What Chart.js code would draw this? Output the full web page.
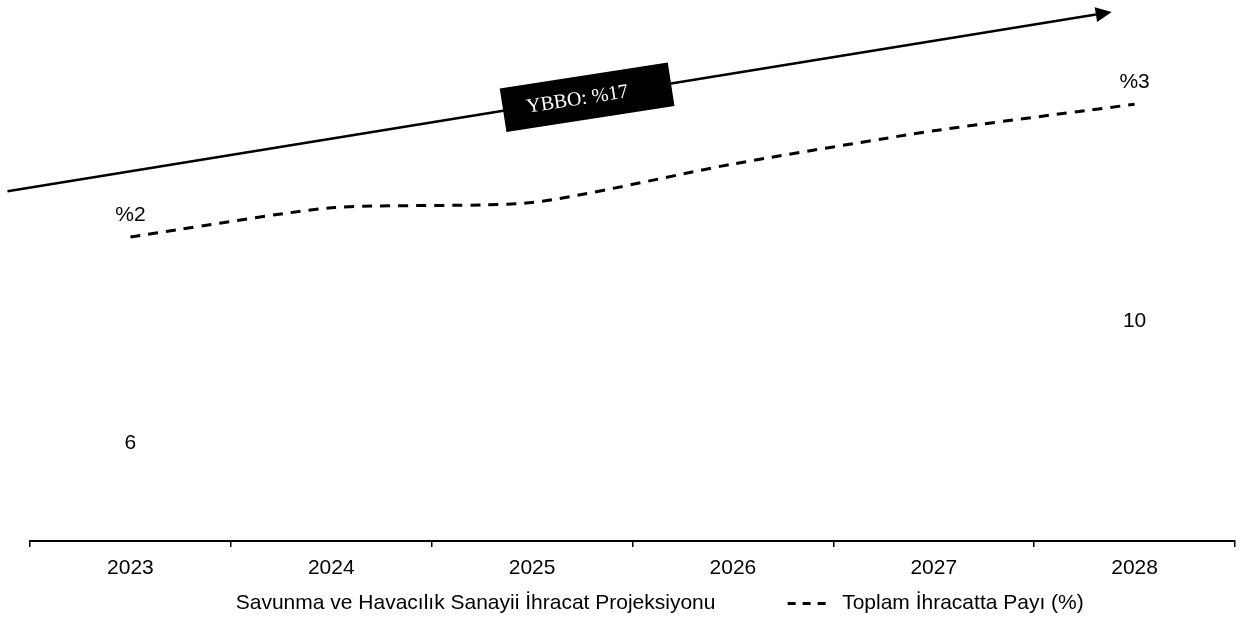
<!DOCTYPE html>
<html>
<head>
<meta charset="utf-8">
<script src="https://cdn.jsdelivr.net/npm/chart.js@4.4.1/dist/chart.umd.min.js"></script>
<style>
html,body{margin:0;padding:0;background:#ffffff;}
#wrap{width:1242px;height:624px;position:relative;}
</style>
</head>
<body>
<div id="wrap"><canvas id="c" width="1242" height="624"></canvas></div>
<script>
// ---- data ----
const years = ['2023', '2024', '2025', '2026', '2027', '2028'];
const exportValues = [6, 7, 7.6, 8.3, 9.1, 10];
const exportLabelShown = [true, false, false, false, false, true];
const shareValues = [2.0, 2.22, 2.26, 2.55, 2.8, 3.0];
const shareLabels = ['%2', '', '', '', '', '%3'];
const cagrLabel = 'YBBO: %17';
const barSeriesName = 'Savunma ve Havacılık Sanayii İhracat Projeksiyonu';
const lineSeriesName = 'Toplam İhracatta Payı (%)';
// trend arrow, in (category index, share axis value)
const arrowStart = [-0.612, 2.344];
const arrowEnd = [4.886, 3.695];
const arrowBoxAtIndex = 2.274;

const FONT = "'Liberation Sans', Arial, sans-serif";
Chart.defaults.font.family = FONT;
Chart.defaults.color = '#000';

const valueLabels = {
  id: 'valueLabels',
  afterDatasetsDraw(chart) {
    const ctx = chart.ctx;
    const bottom = chart.chartArea.bottom;
    ctx.save();
    ctx.fillStyle = '#000';
    ctx.font = '21px ' + FONT;
    ctx.textAlign = 'center';
    ctx.textBaseline = 'middle';
    const bars = chart.getDatasetMeta(0).data;
    bars.forEach((el, i) => {
      if (!exportLabelShown[i]) return;
      ctx.fillText(String(exportValues[i]), el.x, (el.y + Math.min(el.base, bottom)) / 2);
    });
    const pts = chart.getDatasetMeta(1).data;
    pts.forEach((el, i) => {
      if (!shareLabels[i]) return;
      ctx.fillText(shareLabels[i], el.x, el.y - 22);
    });
    ctx.restore();
  }
};

const trendArrow = {
  id: 'trendArrow',
  afterDraw(chart) {
    const xs = chart.scales.x, ys = chart.scales.y2, ctx = chart.ctx;
    const x1 = xs.getPixelForValue(arrowStart[0]), y1 = ys.getPixelForValue(arrowStart[1]);
    const x2 = xs.getPixelForValue(arrowEnd[0]), y2 = ys.getPixelForValue(arrowEnd[1]);
    const ang = Math.atan2(y2 - y1, x2 - x1);
    ctx.save();
    ctx.strokeStyle = '#000';
    ctx.fillStyle = '#000';
    ctx.lineWidth = 2.6;
    const hl = 16, hw = 7.5;
    const bx = x2 - Math.cos(ang) * hl, by = y2 - Math.sin(ang) * hl;
    ctx.beginPath();
    ctx.moveTo(x1, y1);
    ctx.lineTo(bx, by);
    ctx.stroke();
    ctx.beginPath();
    ctx.moveTo(x2, y2);
    ctx.lineTo(bx + Math.sin(ang) * hw, by - Math.cos(ang) * hw);
    ctx.lineTo(bx - Math.sin(ang) * hw, by + Math.cos(ang) * hw);
    ctx.closePath();
    ctx.fill();
    // label box
    const cx = xs.getPixelForValue(arrowBoxAtIndex);
    const t = (cx - x1) / (x2 - x1);
    const cy = y1 + (y2 - y1) * t;
    ctx.translate(cx, cy);
    ctx.rotate(ang + 0.008);
    ctx.fillRect(-85, -22, 170, 44);
    ctx.fillStyle = '#fff';
    ctx.font = "20px 'Liberation Serif', 'DejaVu Serif', serif";
    ctx.textAlign = 'center';
    ctx.textBaseline = 'middle';
    ctx.fillText(cagrLabel, -10, 1);
    ctx.restore();
  }
};

new Chart(document.getElementById('c'), {
  type: 'bar',
  data: {
    labels: years,
    datasets: [
      {
        label: barSeriesName,
        data: exportValues,
        backgroundColor: '#ffffff',
        borderWidth: 0,
        yAxisID: 'y',
        barPercentage: 0.73,
        categoryPercentage: 0.8,
        order: 2
      },
      {
        type: 'line',
        label: lineSeriesName,
        data: shareValues,
        borderColor: '#000',
        borderWidth: 3,
        borderDash: [10, 8],
        pointRadius: 0,
        tension: 0.22,
        fill: false,
        yAxisID: 'y2',
        order: 1
      }
    ]
  },
  options: {
    responsive: false,
    animation: false,
    devicePixelRatio: 1,
    layout: { padding: { left: 30, right: 7, top: 10, bottom: 0 } },
    plugins: {
      tooltip: { enabled: false },
      legend: {
        position: 'bottom',
        labels: {
          usePointStyle: true,
          pointStyleWidth: 44,
          padding: 8,
          color: '#000',
          font: { size: 21, family: FONT },
          generateLabels: () => [
            { text: barSeriesName + ' '.repeat(11), fillStyle: '#fff', strokeStyle: '#fff', lineWidth: 0, pointStyle: 'rect', hidden: false, datasetIndex: 0, fontColor: '#000' },
            { text: lineSeriesName, fillStyle: 'rgba(0,0,0,0)', strokeStyle: '#000', lineWidth: 3, lineDash: [8, 7], pointStyle: 'line', hidden: false, datasetIndex: 1, fontColor: '#000' }
          ]
        }
      }
    },
    scales: {
      x: {
        offset: true,
        grid: { display: true, drawOnChartArea: false, drawTicks: true, tickLength: 6, color: '#000', lineWidth: 1.5, offset: true, z: 1 },
        border: { display: true, color: '#000', width: 2, z: 1 },
        ticks: { color: '#000', font: { size: 21, family: FONT }, padding: 9, maxRotation: 0, z: 1 },
        afterFit(scale) { scale.height = 44; }
      },
      y: { display: false, min: 2.8, max: 11.5 },
      y2: { display: false, min: -0.29, max: 3.71 }
    }
  },
  plugins: [valueLabels, trendArrow]
});
</script>
</body>
</html>
